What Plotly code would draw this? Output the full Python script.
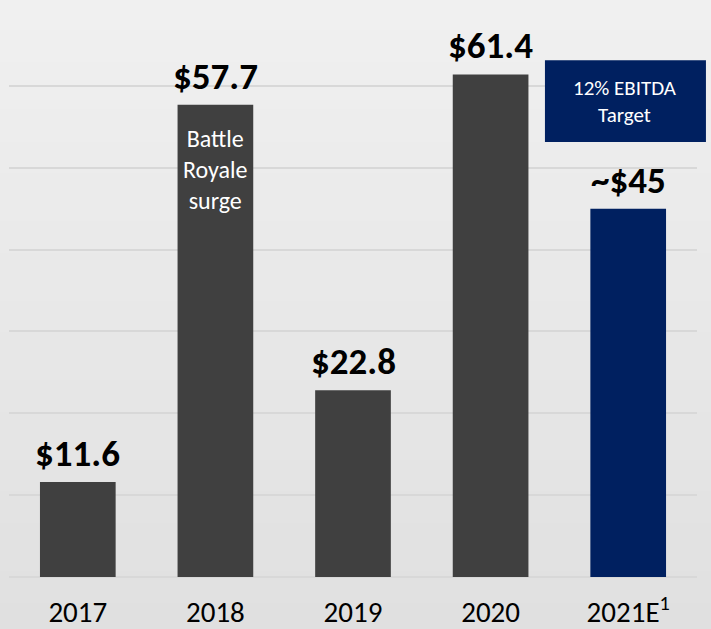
import plotly.graph_objects as go

years = ["2017", "2018", "2019", "2020", "2021E"]
tick_text = ["2017", "2018", "2019", "2020", "2021E<sup>1</sup>"]
ebitda = [11.6, 57.7, 22.8, 61.4, 45]
value_labels = ["$11.6", "$57.7", "$22.8", "$61.4", "~$45"]
bar_colors = ["#404040", "#404040", "#404040", "#404040", "#002060"]

NAVY = "#002060"
FONT = "Carlito, Liberation Sans Narrow, Liberation Sans, Arial"

fig = go.Figure(go.Bar(
    x=years,
    y=ebitda,
    width=0.55,
    marker=dict(color=bar_colors, line=dict(width=0)),
    hoverinfo="skip",
))

# value labels above each bar (category index for x, years look numeric)
for i, (val, lab) in enumerate(zip(ebitda, value_labels)):
    fig.add_annotation(
        x=i, y=val, text="<b>" + lab + "</b>", showarrow=False,
        xanchor="center", yanchor="bottom", yshift=4,
        font=dict(family=FONT, size=37, color="#000000"),
    )

# note inside the 2018 bar
fig.add_annotation(
    x=1, y=49.8, text="Battle<br>Royale<br>surge", showarrow=False,
    xanchor="center", yanchor="middle",
    font=dict(family=FONT, size=24, color="#ffffff"),
)

# EBITDA target box
fig.add_shape(type="rect", xref="paper", yref="paper",
              x0=0.779, x1=1.013, y0=0.759, y1=0.902,
              fillcolor=NAVY, line=dict(width=0), layer="above")
fig.add_annotation(
    xref="paper", yref="paper", x=0.896, y=0.8305,
    xanchor="center", yanchor="middle",
    text="12% EBITDA<br>Target", showarrow=False,
    font=dict(family=FONT, size=21, color="#ffffff"),
)

# soft vertical gradient for the background, drawn as thin bands
n_bands = 40
y_lo, y_hi = -0.1, 1.01
for i in range(n_bands):
    t = i / (n_bands - 1)
    g = round(0xe0 + (0xf0 - 0xe0) * t)
    fig.add_shape(type="rect", xref="paper", yref="paper", layer="below",
                  x0=-0.02, x1=1.03,
                  y0=y_lo + (y_hi - y_lo) * i / n_bands,
                  y1=y_lo + (y_hi - y_lo) * (i + 1) / n_bands + 0.002,
                  fillcolor=f"rgb({g},{g},{g})", line=dict(width=0))

fig.update_layout(
    width=711, height=629,
    margin=dict(l=9, r=14, t=4, b=52),
    paper_bgcolor="#e0e0e0",
    plot_bgcolor="rgba(0,0,0,0)",
    showlegend=False,
)
fig.update_xaxes(
    type="category", range=[-0.5, 4.5], automargin=False,
    tickvals=years, ticktext=tick_text,
    tickfont=dict(family=FONT, size=29, color="#000000"),
    showline=False, showgrid=False, ticks="", ticklabelstandoff=15,
)
fig.update_yaxes(
    range=[0, 70], dtick=10, showticklabels=False, automargin=False,
    showgrid=True, gridcolor="#d8d8d8", gridwidth=2,
    zeroline=True, zerolinecolor="#d8d8d8", zerolinewidth=2,
)

fig.write_html("out.html", config={"displayModeBar": False},
               post_script="document.body.style.margin='0';")
